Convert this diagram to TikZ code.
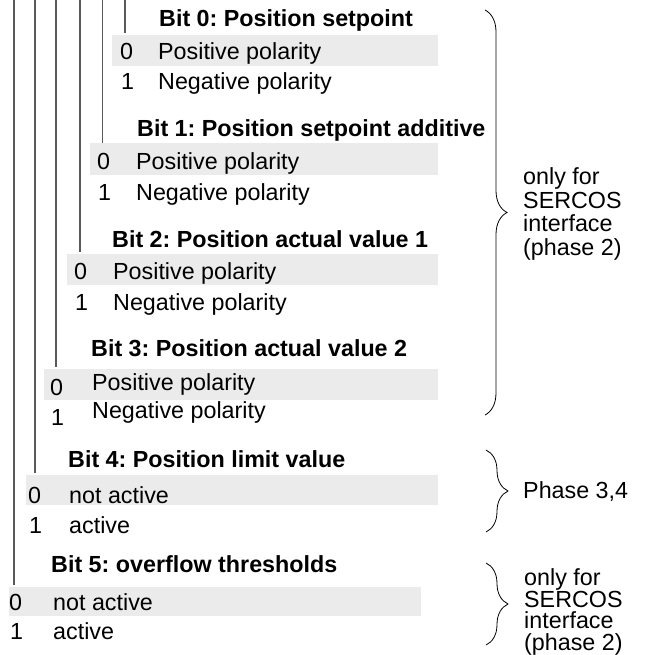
\documentclass[tikz,border=0pt]{standalone}
\usepackage{fontspec}
\setmainfont{Liberation Sans}
\usetikzlibrary{decorations.pathreplacing}
\frenchspacing
\begin{document}
\begin{tikzpicture}[x=1pt,y=-1pt,
  txt/.style={anchor=base west,inner sep=0pt,font=\fontsize{23.3}{23}\selectfont},
  ttl/.style={anchor=base west,inner sep=0pt,font=\fontsize{23.3}{23}\selectfont\bfseries},
  band/.style={fill=black!8,draw=none,inner sep=0pt},
  lead/.style={draw=black!65,line width=1.3pt},
  brc/.style={draw=black,line width=0.8pt,decorate,decoration={brace,amplitude=22pt}},
  note/.style={anchor=base west,inner sep=0pt,align=left,font=\fontsize{23.3}{23}\selectfont}]
\useasboundingbox (0,0) rectangle (646,655);

% shaded "0" rows
\fill[band] (112,35) rectangle (438,66);
\fill[band] (90,143) rectangle (438,175);
\fill[band] (67,254) rectangle (438,285);
\fill[band] (44,369) rectangle (438,400);
\fill[band] (26,475) rectangle (438,505);
\fill[band] (9,587) rectangle (421,616);

% leader lines from the top edge down to each bit
\foreach \n/\x/\y in {a/125/33, b/102.5/143, c/80/252, d/56/367, e/35/473, f/14/585} {
  \coordinate (top\n) at (\x,0);
  \coordinate (end\n) at (\x,\y);
  \draw[lead] (top\n) -- (end\n);
}

% Bit 0
\node[ttl] (t0) at (159,27) {Bit 0: Position setpoint};
\node[txt] (d00) at (120,59.5) {0};
\node[txt] (v00) at (158,59.5) {Positive polarity};
\node[txt] (d01) at (121,90) {1};
\node[txt] (v01) at (158,90) {Negative polarity};

% Bit 1
\node[ttl] (t1) at (137,137) {Bit 1: Position setpoint additive};
\node[txt] (d10) at (97,170) {0};
\node[txt] (v10) at (136,170) {Positive polarity};
\node[txt] (d11) at (98,200) {1};
\node[txt] (v11) at (136,200) {Negative polarity};

% Bit 2
\node[ttl] (t2) at (112,247) {Bit 2: Position actual value 1};
\node[txt] (d20) at (74,279) {0};
\node[txt] (v20) at (113,279) {Positive polarity};
\node[txt] (d21) at (75,310) {1};
\node[txt] (v21) at (113,310) {Negative polarity};

% Bit 3
\node[ttl] (t3) at (91,356) {Bit 3: Position actual value 2};
\node[txt] (d30) at (50,395) {0};
\node[txt] (v30) at (92,390) {Positive polarity};
\node[txt] (d31) at (51,425) {1};
\node[txt] (v31) at (92,418) {Negative polarity};

% Bit 4
\node[ttl] (t4) at (68,467) {Bit 4: Position limit value};
\node[txt] (d40) at (28,503) {0};
\node[txt] (v40) at (69,503) {not active};
\node[txt] (d41) at (29,533) {1};
\node[txt] (v41) at (69,533) {active};

% Bit 5
\node[ttl] (t5) at (51,572) {Bit 5: overflow thresholds};
\node[txt] (d50) at (9,610) {0};
\node[txt] (v50) at (53,610) {not active};
\node[txt] (d51) at (10,639) {1};
\node[txt] (v51) at (53,639) {active};

% braces and their notes (a multi-line note sits on its last baseline)
\coordinate (b1a) at (485,10);   \coordinate (b1b) at (485,415);
\coordinate (b2a) at (486,450);  \coordinate (b2b) at (486,532);
\coordinate (b3a) at (486,563);  \coordinate (b3b) at (486,645);
\draw[brc] (b1a) -- (b1b);
\draw[brc] (b2a) -- (b2b);
\draw[brc] (b3a) -- (b3b);

\node[note,font=\fontsize{23.3}{23.5}\selectfont] (n1) at (523,255) {only for\\SERCOS\\interface\\(phase 2)};
\node[note] (n2) at (523,498) {Phase 3,4};
\node[note,font=\fontsize{23.3}{21.5}\selectfont] (n3) at (524,650) {only for\\SERCOS\\interface\\(phase 2)};
\end{tikzpicture}
\end{document}
